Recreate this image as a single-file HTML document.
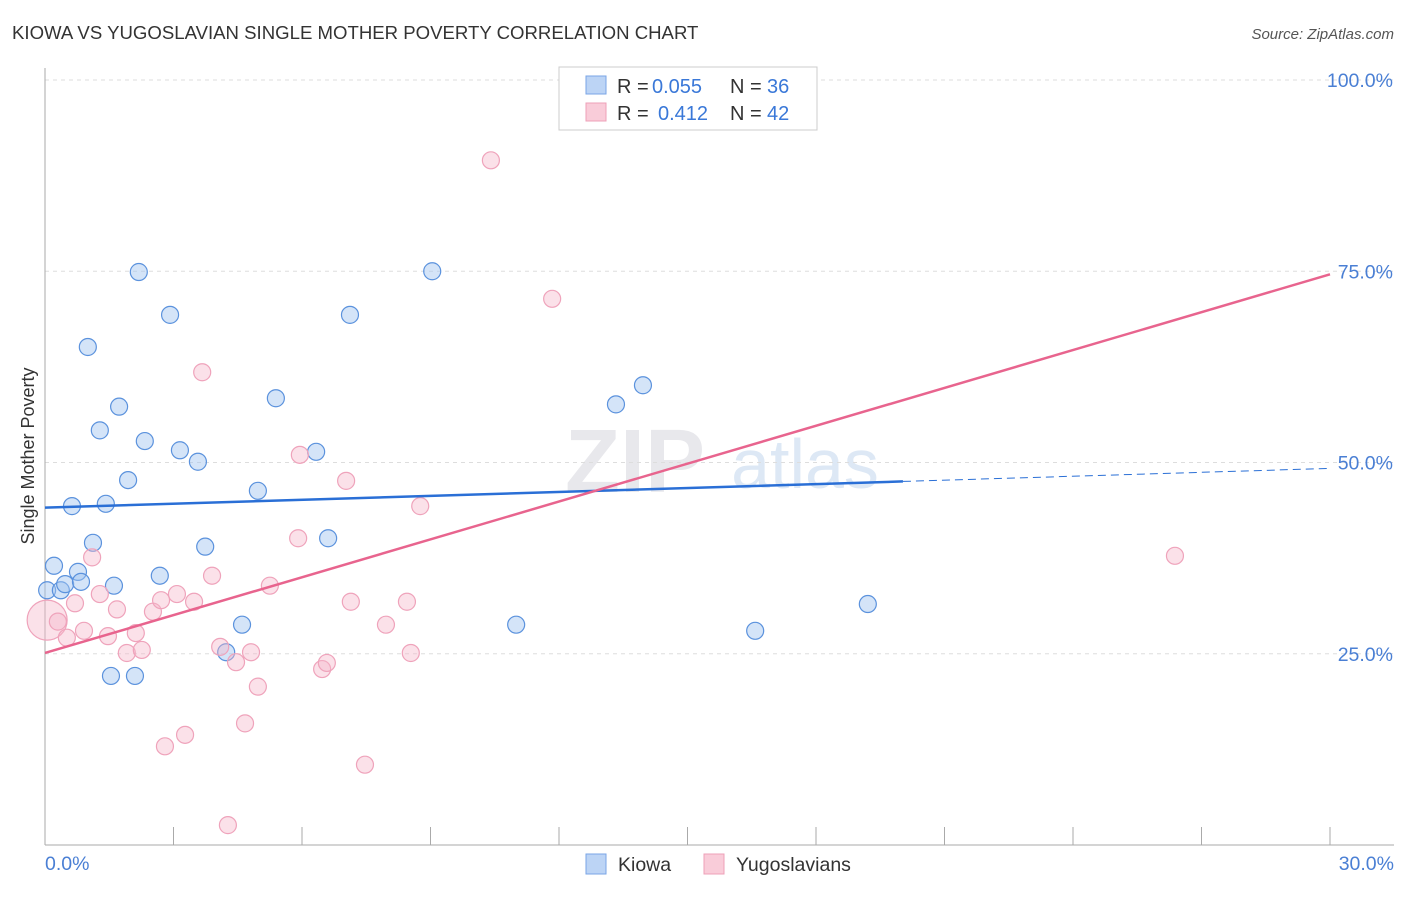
<!DOCTYPE html>
<html><head><meta charset="utf-8"><style>
body{margin:0;background:#fff;font-family:"Liberation Sans",sans-serif}
svg text{font-family:"Liberation Sans",sans-serif}
</style></head><body>
<svg id="chart" width="1406" height="892" xmlns="http://www.w3.org/2000/svg">
<text x="12" y="39" font-size="18.6" fill="#333">KIOWA VS YUGOSLAVIAN SINGLE MOTHER POVERTY CORRELATION CHART</text>
<text x="1394" y="39" font-size="15" fill="#555" text-anchor="end" font-style="italic">Source: ZipAtlas.com</text>
<text x="635" y="492" font-size="90" fill="#e8e8ec" font-weight="bold" text-anchor="middle" font-family="Liberation Serif">ZIP</text>
<text x="805" y="488" font-size="70" fill="#dde8f5" text-anchor="middle">atlas</text>
<g id="grid"></g>
<g id="axes"></g>
<g id="marks"></g>
<g id="lines"></g>
<text transform="translate(34,456) rotate(-90)" font-size="18" fill="#333" text-anchor="middle">Single Mother Poverty</text>
<text x="45" y="870" font-size="19.5" fill="#4a7fd4">0.0%</text>
<text x="1394" y="870" font-size="19.5" fill="#4a7fd4" text-anchor="end">30.0%</text>
<g>
<rect x="559" y="67" width="258" height="63" fill="#fff" stroke="#ccc"/>
<rect x="586" y="76" width="20" height="18" fill="#bcd4f5" stroke="#7aa5e6"/>
<text y="93" font-size="20" fill="#333"><tspan x="617">R =</tspan><tspan x="652" fill="#3a78d8">0.055</tspan><tspan x="730">N =</tspan><tspan x="767" fill="#3a78d8">36</tspan></text>
<rect x="586" y="103" width="20" height="18" fill="#f9ccd9" stroke="#eea0b8"/>
<text y="120" font-size="20" fill="#333"><tspan x="617">R =</tspan><tspan x="658" fill="#3a78d8">0.412</tspan><tspan x="730">N =</tspan><tspan x="767" fill="#3a78d8">42</tspan></text>
</g>
<g>
<rect x="586" y="854" width="20" height="20" fill="#bcd4f5" stroke="#7aa5e6"/>
<text x="618" y="871" font-size="19.5" fill="#333">Kiowa</text>
<rect x="704" y="854" width="20" height="20" fill="#f9ccd9" stroke="#eea0b8"/>
<text x="736" y="871" font-size="19.5" fill="#333">Yugoslavians</text>
</g>
</svg>
<script>
const kiowaX=[0.05,0.21,0.37,0.47,0.63,0.77,0.84,1.00,1.12,1.28,1.42,1.54,1.61,1.73,1.94,2.10,2.19,2.33,2.68,2.92,3.15,3.57,3.74,4.23,4.60,4.97,5.39,6.33,6.61,7.12,9.04,11.0,13.33,13.96,16.58,19.21];
const kiowaY=[33.3,36.5,33.3,34.1,44.3,35.7,34.4,65.1,39.5,54.2,44.6,22.1,33.9,57.3,47.7,22.1,74.9,52.8,35.2,69.3,51.6,50.1,39.0,25.2,28.8,46.3,58.4,51.4,40.1,69.3,75.0,28.8,57.6,60.1,28.0,31.5];
const yugoX=[0.05,0.30,0.51,0.70,0.91,1.10,1.28,1.47,1.68,1.91,2.12,2.26,2.52,2.71,2.80,3.08,3.27,3.48,3.67,3.90,4.09,4.27,4.46,4.67,4.81,4.97,5.25,5.91,5.95,6.47,6.58,7.03,7.14,7.47,7.96,8.45,8.54,8.76,10.41,11.84,26.38,13.54];
const yugoY=[29.4,29.2,27.1,31.6,28.0,37.6,32.8,27.3,30.8,25.1,27.7,25.5,30.5,32.0,12.9,32.8,14.4,31.8,61.8,35.2,25.9,2.6,23.9,15.9,25.2,20.7,33.9,40.1,51.0,23.0,23.8,47.6,31.8,10.5,28.8,31.8,25.1,44.3,89.5,71.4,37.8,100.3];
const yTicks=[100,75,50,25];
const yTickLabels=["100.0%","75.0%","50.0%","25.0%"];
const xTicks=[0,3,6,9,12,15,18,21,24,27,30];
const kiowaTrend=[44.1,0.171];
const yugoTrend=[25.1,1.65];
const kiowaSolidEnd=20.03;

const NS="http://www.w3.org/2000/svg";
const X=v=>45+v*1285/30, Y=v=>845-v*7.65;
function mk(tag,attrs,parent){const e=document.createElementNS(NS,tag);for(const k in attrs)e.setAttribute(k,attrs[k]);document.getElementById(parent).appendChild(e);return e;}
yTicks.forEach((t,i)=>{
 const l=mk('line',{x1:45,x2:1394,y1:Y(t),y2:Y(t),stroke:'#ddd','stroke-dasharray':'4,4'},'grid');
 
 
 const tx=mk('text',{x:1393,y:Y(t)+7,'font-size':19.5,fill:'#4a7fd4','text-anchor':'end'},'grid');
 tx.textContent=yTickLabels[i];
 
 
});
const ax=mk('line',{x1:45,x2:45,y1:68,y2:845,stroke:'#aaa'},'axes');


const bx=mk('line',{x1:45,x2:1394,y1:845,y2:845,stroke:'#aaa'},'axes');


xTicks.forEach(t=>{
 const l=mk('line',{x1:X(t),x2:X(t),y1:827,y2:845,stroke:'#aaa'},'axes');
 
 
});
kiowaX.forEach((v,i)=>{
 const c=mk('circle',{cx:X(v),cy:Y(kiowaY[i]),r:8.5,fill:'rgba(160,196,240,0.45)',stroke:'#5b92dd','stroke-width':1.2},'marks');
 
 
});
yugoX.forEach((v,i)=>{
 const c=mk('circle',{cx:X(v),cy:Y(yugoY[i]),r:i===0?20:8.5,fill:'rgba(246,180,200,0.4)',stroke:'#efa3bb','stroke-width':1.2},'marks');
 
 
});
const kt=x=>kiowaTrend[0]+kiowaTrend[1]*x, yt=x=>yugoTrend[0]+yugoTrend[1]*x;
const l1=mk('line',{x1:X(0),y1:Y(kt(0)),x2:X(kiowaSolidEnd),y2:Y(kt(kiowaSolidEnd)),stroke:'#2a6fd6','stroke-width':2.5},'lines');


const l2=mk('line',{x1:X(kiowaSolidEnd),y1:Y(kt(kiowaSolidEnd)),x2:X(30),y2:Y(kt(30)),stroke:'#2a6fd6','stroke-width':1,'stroke-dasharray':'8,5'},'lines');


const l3=mk('line',{x1:X(0),y1:Y(yt(0)),x2:X(30),y2:Y(yt(30)),stroke:'#e8648e','stroke-width':2.5},'lines');


</script>
</body></html>
